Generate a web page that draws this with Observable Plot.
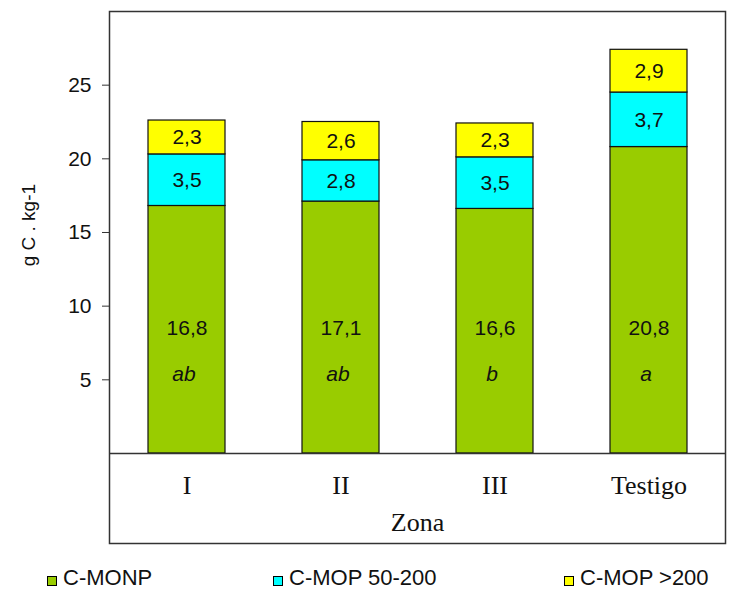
<!DOCTYPE html>
<html>
<head>
<meta charset="utf-8">
<script src="https://cdn.jsdelivr.net/npm/d3@7"></script>
<script src="https://cdn.jsdelivr.net/npm/@observablehq/plot@0.6"></script>
<style>
  html, body { margin: 0; padding: 0; background: #fff; }
  #wrap { position: relative; width: 730px; height: 594px; }
  #legend { position: absolute; left: 0; top: 565px; width: 730px; height: 29px;
            font-family: "Liberation Sans", Arial, sans-serif; font-size: 22px; color: #111; }
  .item { position: absolute; top: 0; display: flex; align-items: center; }
  .sw { width: 8px; height: 8px; border: 1px solid #000; margin-right: 6px; margin-top: 6px; }
</style>
</head>
<body>
<div id="wrap">
  <div id="chart"></div>
  <div id="legend"></div>
</div>
<script>
const zones = ["I", "II", "III", "Testigo"];
const series = ["C-MONP", "C-MOP 50-200", "C-MOP >200"];
const colors = ["#99CC00", "#00FFFF", "#FFFF00"];
const monp = [16.8, 17.1, 16.6, 20.8];
const mop50 = [3.5, 2.8, 3.5, 3.7];
const mop200 = [2.3, 2.6, 2.3, 2.9];
const letters = ["ab", "ab", "b", "a"];
const yTicks = [5, 10, 15, 20, 25];
const yLabel = "g C . kg-1";
const xTitle = "Zona";

const seriesValues = [monp, mop50, mop200];
const rows = [];
series.forEach((s, si) => zones.forEach((z, zi) => rows.push({zone: z, series: s, value: seriesValues[si][zi]})));
const fmt = v => v.toFixed(1).replace(".", ",");
const base = zones.map((z, i) => ({zone: z, value: monp[i], letter: letters[i]}));

const sans = "Liberation Sans, Arial, sans-serif";
const serif = "Liberation Serif, Times New Roman, serif";

const plot = Plot.plot({
  width: 730,
  height: 555,
  marginLeft: 109,
  marginRight: 5,
  marginTop: 11,
  marginBottom: 12,
  style: {fontFamily: sans, fontSize: "21px", color: "#111", background: "#fff"},
  x: {domain: zones, paddingInner: 0.5, paddingOuter: 0.25, axis: null},
  y: {domain: [-6.11, 30], axis: null},
  color: {domain: series, range: colors},
  marks: [
    Plot.barY(rows, {x: "zone", y: "value", fill: "series", stroke: "#111", strokeWidth: 1.2, order: series}),
    Plot.text(rows, Plot.stackY({x: "zone", y: "value", z: "series", order: series,
      text: d => d.series === series[0] ? null : fmt(d.value), fontSize: 21, fill: "#111"})),
    Plot.text(base, {x: "zone", y: 8.5, text: d => fmt(d.value), fontSize: 21, fill: "#111"}),
    Plot.text(base, {x: "zone", y: 5.4, dx: -3, text: "letter", fontSize: 21, fontStyle: "italic", fill: "#111"}),
    Plot.ruleY([0], {stroke: "#333", strokeWidth: 1.5}),
    Plot.axisY({ticks: yTicks, tickSize: 7, tickPadding: 11, fontSize: 21, label: null, tickFormat: d => d, stroke: "#333"}),
    Plot.text(zones, {x: d => d, y: -2.2, text: d => d, fontFamily: serif, fontSize: 26, fill: "#111"}),
    Plot.text([xTitle], {y: -4.7, frameAnchor: "middle", text: d => d, fontFamily: serif, fontSize: 26, fill: "#111"}),
    Plot.text([yLabel], {y: 15.5, frameAnchor: "left", dx: -81, rotate: -90, textAnchor: "middle", text: d => d, fontSize: 19, fill: "#111"}),
    Plot.frame({stroke: "#333", strokeWidth: 1.5})
  ]
});
document.getElementById("chart").appendChild(plot);

const legendPos = [47, 273, 564];
const legend = document.getElementById("legend");
series.forEach((s, i) => {
  const it = document.createElement("div");
  it.className = "item";
  it.style.left = legendPos[i] + "px";
  const sw = document.createElement("div");
  sw.className = "sw";
  sw.style.background = colors[i];
  const tx = document.createElement("span");
  tx.textContent = s;
  it.appendChild(sw);
  it.appendChild(tx);
  legend.appendChild(it);
});
</script>
</body>
</html>
